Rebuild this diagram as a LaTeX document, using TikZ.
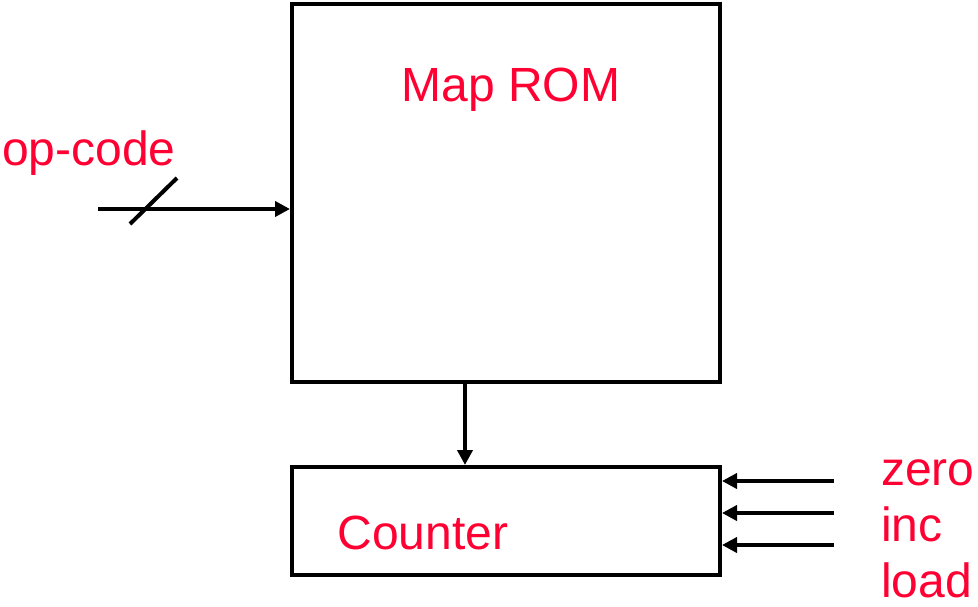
\documentclass[tikz,border=0pt]{standalone}
\usepackage{fontspec}
\setmainfont{Liberation Sans}
\usetikzlibrary{arrows.meta}
\definecolor{lblred}{RGB}{255,0,51}
\begin{document}
\begin{tikzpicture}[x=1pt,y=-1pt,
  blk/.style={draw=black,line width=4pt,minimum width=428pt,inner sep=0pt},
  lbl/.style={text=lblred,font=\fontsize{48}{56}\selectfont,inner sep=0pt,anchor=base},
  sig/.style={line width=4pt,-{Triangle[length=15pt,width=15pt]}}]
\useasboundingbox (0,0) rectangle (978,607);
\node[blk,minimum height=378pt] (rom) at (506,193) {};
\node[blk,minimum height=108pt] (ctr) at (506,521) {};
\node[lbl] (romlbl) at (511,102) {Map ROM};
\node[lbl] (ctrlbl) at (423,549) {Counter};
\node[lbl,anchor=base west] (op) at (2,166) {op-code};
\node[lbl,anchor=base west] (zero) at (881,485) {zero};
\node[lbl,anchor=base west] (inc) at (881,541) {inc};
\node[lbl,anchor=base west] (load) at (881,597) {load};
\coordinate (opin) at (98,209);
\draw[sig] (opin) -- (opin -| rom.west);
\coordinate (s1) at (130,224);
\coordinate (s2) at (177,178);
\draw[line width=4pt] (s1) -- (s2);
\coordinate (down) at (465,0);
\draw[sig] (down |- rom.south) -- (down |- ctr.north);
\coordinate (zin) at (834,481);
\coordinate (iin) at (834,513);
\coordinate (lin) at (834,545);
\draw[sig] (zin) -- (zin -| ctr.east);
\draw[sig] (iin) -- (iin -| ctr.east);
\draw[sig] (lin) -- (lin -| ctr.east);
\end{tikzpicture}
\end{document}
